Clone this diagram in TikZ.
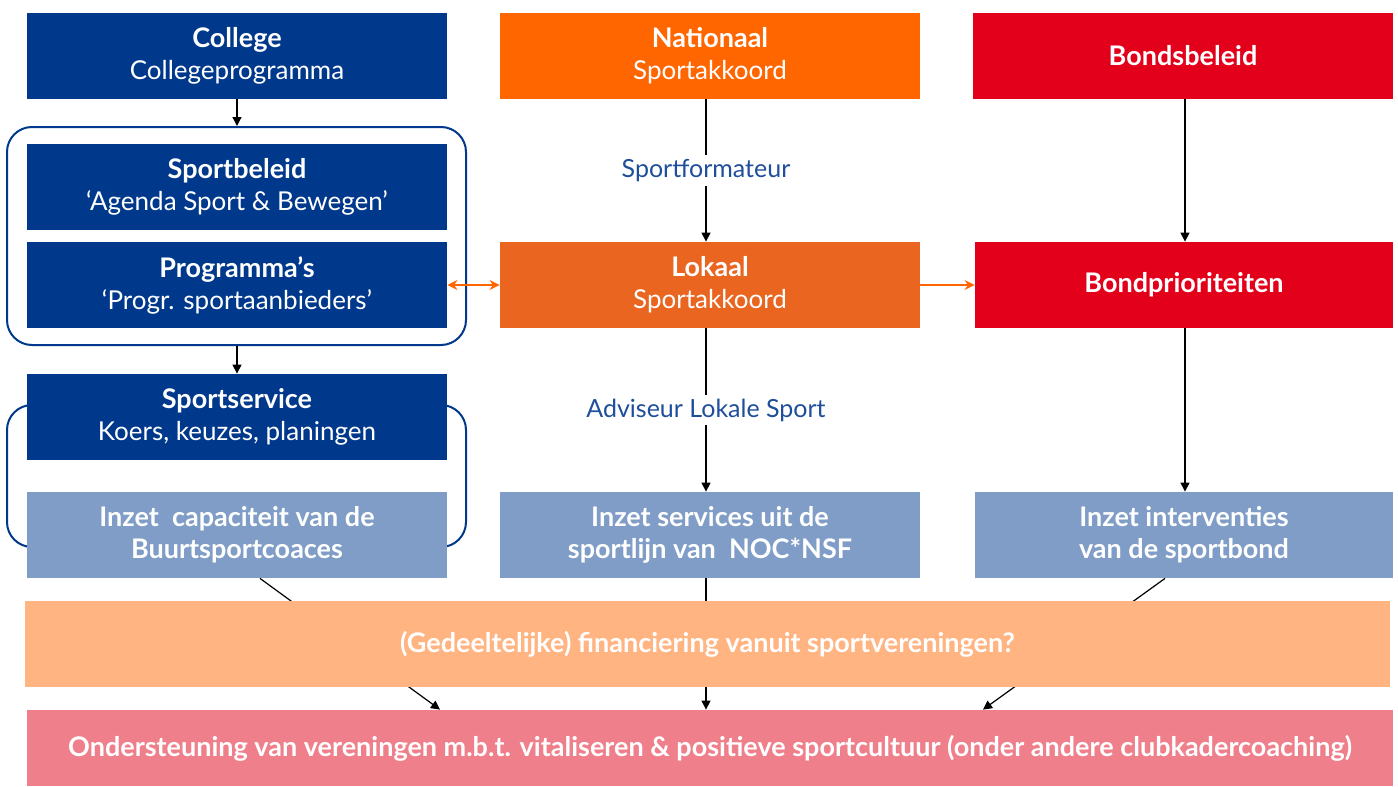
\documentclass[tikz,border=0pt]{standalone}
\usepackage{fontspec}
\setmainfont{Lato}
\usetikzlibrary{arrows.meta, positioning, calc}

\definecolor{donkerblauw}{RGB}{0,57,139}
\definecolor{nationaaloranje}{RGB}{255,102,0}
\definecolor{lokaaloranje}{RGB}{234,101,32}
\definecolor{bondrood}{RGB}{226,0,26}
\definecolor{lichtblauw}{RGB}{127,157,199}
\definecolor{perzik}{RGB}{255,180,130}
\definecolor{roze}{RGB}{240,127,140}
\definecolor{tekstblauw}{RGB}{31,78,155}

\newcommand{\kop}[1]{{\bfseries\fontsize{13.5}{16}\selectfont #1}}

\tikzset{
  blok/.style={rectangle, minimum width=210pt, minimum height=43pt, inner sep=0pt,
    text=white, align=center, font=\fontsize{13}{16}\selectfont},
  vetblok/.style={blok, font=\bfseries\fontsize{13.5}{16}\selectfont},
  kader/.style={rectangle, draw=donkerblauw, line width=1pt, rounded corners=12.5pt,
    minimum width=229.5pt, inner sep=0pt},
  pijl/.style={-{Triangle[width=4.5pt,length=4.5pt]}, line width=0.6pt, black},
  oranjepijl/.style={{Stealth[width=5pt,length=5pt]}-{Stealth[width=5pt,length=5pt]}, line width=1pt, nationaaloranje},
  tussentekst/.style={fill=white, text=tekstblauw, font=\fontsize{12.5}{16}\selectfont, inner sep=2pt}
}

\begin{document}
\begin{tikzpicture}[x=0.5pt, y=-0.5pt]
\useasboundingbox (0,0) rectangle (1398,787);

% kaders achter de blokken
\node[kader, minimum height=109pt] (kader1) at (236.5,236) {};
\node[kader, minimum height=71pt] (kader2) at (236.5,476) {};

% bovenste rij
\node[blok, fill=donkerblauw] (college) at (237,56) {\kop{College}\\Collegeprogramma};
\node[blok, fill=nationaaloranje] (nationaal) at (710,56) {\kop{Nationaal}\\Sportakkoord};
\node[vetblok, fill=bondrood] (bondsbeleid) at (1183,56) {Bondsbeleid};

% tweede rij
\node[blok, fill=donkerblauw] (sportbeleid) at (237,187) {\kop{Sportbeleid}\\`Agenda Sport \& Bewegen'};
\node[blok, fill=donkerblauw] (programmas) at (237,285) {\kop{Programma's}\\`Progr. sportaanbieders'};
\node[blok, fill=lokaaloranje] (lokaal) at (710,285) {\kop{Lokaal}\\Sportakkoord};
\node[vetblok, fill=bondrood, minimum width=209pt] (bondprio) at (1184,285) {Bondprioriteiten};

% derde rij
\node[blok, fill=donkerblauw] (sportservice) at (237,417) {\kop{Sportservice}\\Koers, keuzes, planingen};
\node[vetblok, fill=lichtblauw] (inzetcap) at (237,535) {Inzet\ \ capaciteit van de\\Buurtsportcoaces};
\node[vetblok, fill=lichtblauw] (inzetserv) at (710,535) {Inzet services uit de\\sportlijn van\ \ NOC*NSF};
\node[vetblok, fill=lichtblauw, minimum width=209pt] (inzetint) at (1184,535) {Inzet interventies\\van de sportbond};

\node[vetblok, fill=roze, minimum width=683pt, minimum height=38pt] (onder) at (710,748)
  {Ondersteuning van vereningen m.b.t. vitaliseren \& positieve sportcultuur (onder andere clubkadercoaching)};

% verbindingen
\draw[pijl] (college.south) -- (college.south |- kader1.north);
\draw[pijl] (kader1.south -| sportservice.north) -- (sportservice.north);
\draw[pijl] ([xshift=-2pt]nationaal.south) -- node[tussentekst] {Sportformateur} ([xshift=-2pt]lokaal.north);
\draw[pijl] ([xshift=-2pt]lokaal.south) -- node[tussentekst] {Adviseur Lokale Sport} ([xshift=-2pt]inzetserv.north);
\draw[pijl] ([xshift=1pt]bondsbeleid.south) -- ([xshift=0.5pt]bondprio.north);
\draw[pijl] ([xshift=0.5pt]bondprio.south) -- ([xshift=0.5pt]inzetint.north);
\draw[oranjepijl] (programmas.east) -- (lokaal.west);
\draw[oranjepijl, -{Stealth[width=5pt,length=5pt]}] (lokaal.east) -- (bondprio.west);

% lijnen achter de financieringsbalk
\draw[pijl] ([xshift=11.5pt]inzetcap.south) -- ([xshift=-135pt]onder.north);
\draw[pijl] ([xshift=-2pt]inzetserv.south) -- ([xshift=-2pt]onder.north);
\draw[pijl] ([xshift=-9.5pt]inzetint.south) -- ([xshift=136.5pt]onder.north);

\node[vetblok, fill=perzik, minimum width=682.5pt] (financiering) at (707.5,644)
  {(Gedeeltelijke) financiering vanuit sportvereningen?};
\end{tikzpicture}
\end{document}
